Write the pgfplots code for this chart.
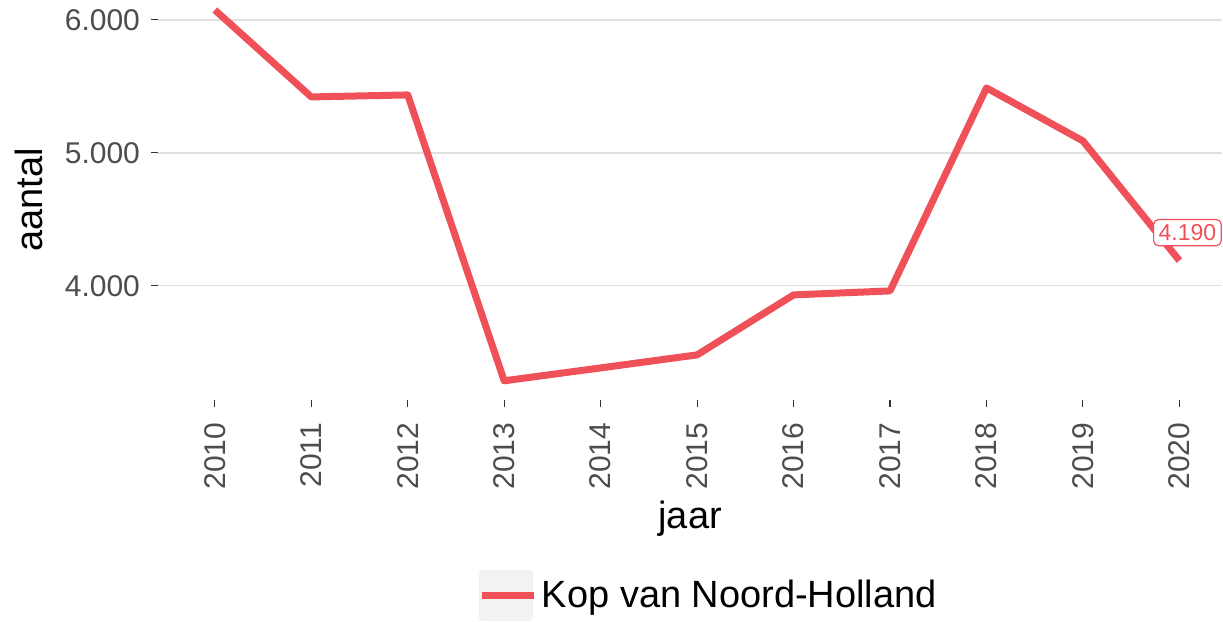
\documentclass[border=0pt]{standalone}
\usepackage{fontspec}
\setmainfont{Liberation Sans}
\usepackage{pgfplots}
\pgfplotsset{compat=1.18}
\definecolor{linered}{RGB}{240,80,88}
\definecolor{tickgray}{RGB}{77,77,77}
\definecolor{tickdark}{RGB}{51,51,51}
\definecolor{gridgray}{RGB}{224,224,224}
\definecolor{keygray}{RGB}{242,242,242}
\begin{document}
\begin{tikzpicture}
\begin{axis}[
  name=ax, at={(0,0)}, anchor=south west,
  scale only axis, width=532.5pt, height=200pt,
  xmin=2009.41, xmax=2020.446, ymin=3143, ymax=6150,
  axis line style={draw=none},
  clip=false,
  tick pos=left, tick align=outside, major tick length=3.5pt,
  tick style={draw=tickdark, line width=0.55pt},
  xtick={2010,2011,2012,2013,2014,2015,2016,2017,2018,2019,2020},
  xticklabels={2010,2011,2012,2013,2014,2015,2016,2017,2018,2019,2020},
  ytick={4000,5000,6000},
  yticklabels={4.000,5.000,6.000},
  xticklabel shift=4.5pt, yticklabel shift=2pt,
  x tick label style={rotate=90, anchor=east, font=\fontsize{15}{15}\selectfont, text=tickgray},
  y tick label style={font=\fontsize{15}{15}\selectfont, text=tickgray},
  ymajorgrids, grid style={draw=gridgray, line width=0.6pt},
  xlabel={jaar}, ylabel={aantal},
  ylabel shift=4pt, xlabel shift=-1pt,
  label style={font=\fontsize{19}{19}\selectfont},
  legend style={at={(0.5185,-0.49)}, anchor=center, draw=none, fill=none,
    font=\fontsize{19}{19}\selectfont, inner sep=0pt},
  legend image code/.code={
    \fill[keygray] (0pt,-11pt) rectangle (23.5pt,11pt);
    \draw[#1] (2.5pt,0pt) -- (21pt,0pt);
    \path (0pt,0pt) -- (26pt,0pt);
  },
]
\addplot[linered, line width=3.5pt, line join=round] coordinates {
  (2010,6075) (2011,5421) (2012,5436) (2013,3286) (2014,3383) (2015,3481)
  (2016,3932) (2017,3962) (2018,5489) (2019,5090) (2020,4190)
};
\addlegendentry{Kop van Noord-Holland}
\node[draw=linered, fill=white, rounded corners=2.5pt, text=linered,
  font=\fontsize{11.5}{11.5}\selectfont, inner sep=2.5pt, line width=0.6pt,
  anchor=center] at (axis cs:2020,4190) [xshift=4pt, yshift=14pt] {4.190};
\end{axis}
\useasboundingbox (-79pt,-110.5pt) rectangle (532.5pt,200pt);
\end{tikzpicture}
\end{document}
